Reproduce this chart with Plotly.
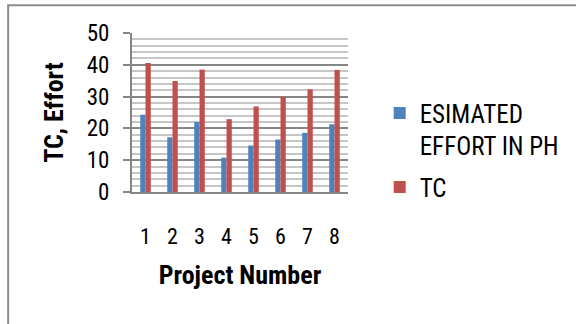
import plotly.graph_objects as go

# Project data
projects = ["1", "2", "3", "4", "5", "6", "7", "8"]
estimated_effort = [24.3, 17.2, 22.0, 10.8, 14.6, 16.5, 18.6, 21.3]
tc_values = [40.6, 34.9, 38.5, 22.9, 26.9, 29.9, 32.3, 38.4]
y_ticks = [0, 10, 20, 30, 40, 50]

FONT = ("Liberation Sans Narrow, Arial Narrow, Roboto Condensed, "
        "PT Sans Narrow, Archivo Narrow, sans-serif")
BLUE = "#4F81BD"
RED = "#C0504D"
GRID_MAJOR = "#868686"
GRID_MINOR = "#c6c6c6"

fig = go.Figure()
fig.add_trace(go.Bar(
    x=projects, y=estimated_effort, name="ESIMATED<br>EFFORT IN PH",
    legendgroup="effort",
    marker=dict(color=BLUE, line=dict(width=0)),
))
fig.add_trace(go.Bar(
    x=projects, y=tc_values, name="TC",
    legendgroup="tc",
    marker=dict(color=RED, line=dict(width=0)),
))

fig.update_layout(
    width=576, height=324,
    margin=dict(l=132, r=219, t=33, b=132),
    paper_bgcolor="white", plot_bgcolor="white",
    barmode="group", bargap=0.61, bargroupgap=0,
    font=dict(family=FONT, color="#000000"),
    showlegend=True,
    legend=dict(
        x=(390 - 132) / 225, xanchor="left",
        y=(191.7 - 90) / 159, yanchor="top",
        font=dict(family=FONT, size=25, color="#000000"),
        valign="top", traceorder="grouped", tracegroupgap=6,
        itemwidth=30, bgcolor="rgba(0,0,0,0)",
    ),
    xaxis=dict(
        type="category",
        showline=True, linecolor=GRID_MAJOR, linewidth=2,
        ticks="", showgrid=False,
        tickfont=dict(family=FONT, size=22, color="#000000"),
        ticklabelstandoff=24,
        title=dict(text="<b>Project Number</b>",
                   font=dict(family=FONT, size=26, color="#000000"),
                   standoff=17),
    ),
    yaxis=dict(
        range=[0, 50], tickvals=y_ticks,
        showline=True, linecolor=GRID_MAJOR, linewidth=2,
        ticks="outside", ticklen=7, tickwidth=2, tickcolor=GRID_MAJOR,
        showgrid=True, gridcolor=GRID_MAJOR, gridwidth=2,
        zeroline=False,
        minor=dict(dtick=2, showgrid=True, gridcolor=GRID_MINOR, gridwidth=2),
        tickfont=dict(family=FONT, size=23, color="#000000"),
        ticklabelstandoff=9,
        title=dict(text="<b>TC, Effort</b>",
                   font=dict(family=FONT, size=26, color="#000000"),
                   standoff=16),
    ),
    shapes=[
        # outer chart border (runs off the right and bottom edges)
        dict(type="rect", xref="paper", yref="paper",
             x0=(3 - 132) / 225, x1=(620 - 132) / 225,
             y0=(191.7 - 360) / 159, y1=(191.7 - 5) / 159,
             line=dict(color="#8c8c8c", width=2), fillcolor="rgba(0,0,0,0)",
             layer="below"),
    ],
)

fig.write_html("out.html")
